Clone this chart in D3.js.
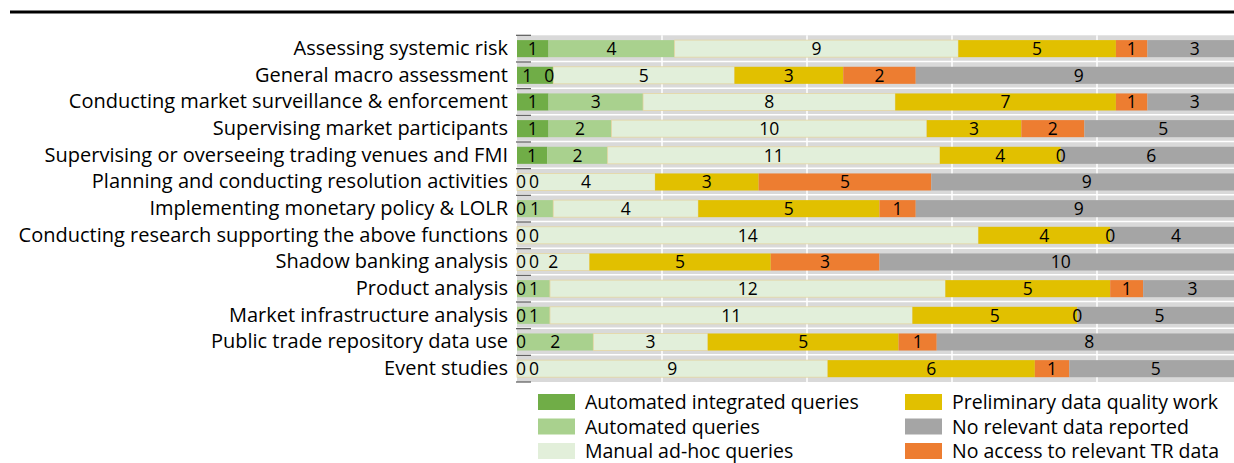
<!DOCTYPE html>
<html>
<head>
<meta charset="utf-8">
<script src="https://cdn.jsdelivr.net/npm/d3@7"></script>
<style>
  body { margin: 0; background: #fff; }
  svg { display: block; }
  text { font-family: "Open Sans", sans-serif; fill: #000; }
</style>
</head>
<body>
<svg id="chart" width="1234" height="463"></svg>
<script>
var categories = ['Assessing systemic risk', 'General macro assessment',
  'Conducting market surveillance & enforcement', 'Supervising market participants',
  'Supervising or overseeing trading venues and FMI', 'Planning and conducting resolution activities',
  'Implementing monetary policy & LOLR', 'Conducting research supporting the above functions',
  'Shadow banking analysis', 'Product analysis', 'Market infrastructure analysis',
  'Public trade repository data use', 'Event studies']

var seriesNames = ['Automated integrated queries', 'Automated queries', 'Manual ad-hoc queries',
  'Preliminary data quality work', 'No access to relevant TR data', 'No relevant data reported']

var automatedIntegrated = [1, 1, 1, 1, 1, 0, 0, 0, 0, 0, 0, 0, 0]
var automated = [4, 0, 3, 2, 2, 0, 1, 0, 0, 1, 1, 2, 0]
var manual = [9, 5, 8, 10, 11, 4, 4, 14, 2, 12, 11, 3, 9]
var preliminary = [5, 3, 7, 3, 4, 3, 5, 4, 5, 5, 5, 5, 6]
var noAccess = [1, 2, 1, 2, 0, 5, 1, 0, 3, 1, 0, 1, 1]
var noData = [3, 9, 3, 5, 6, 9, 9, 4, 10, 3, 5, 8, 5]

var legendOrder = ['Automated integrated queries', 'Automated queries', 'Manual ad-hoc queries',
  'Preliminary data quality work', 'No relevant data reported', 'No access to relevant TR data']

const colors = {
  'Automated integrated queries': '#70ad47',
  'Automated queries': '#a9d18e',
  'Manual ad-hoc queries': '#e2efda',
  'Preliminary data quality work': '#e1c000',
  'No access to relevant TR data': '#ed7d31',
  'No relevant data reported': '#a5a5a5'
}

var allSeries = [automatedIntegrated, automated, manual, preliminary, noAccess, noData]
var rows = categories.map(function (c, i) {
  var r = { category: c }
  seriesNames.forEach(function (s, j) { r[s] = allSeries[j][i] })
  return r
})

var svg = d3.select('#chart')

// rule at the top
svg.append('line').attr('x1', 10).attr('x2', 1234).attr('y1', 12).attr('y2', 12)
  .attr('stroke', '#000').attr('stroke-width', 3)

var x = d3.scaleLinear().domain([0, 1]).range([517, 1242])
var y = d3.scaleBand().domain(categories).range([35.3, 382])
  .paddingInner(0.36).paddingOuter(0.18)

var stack = d3.stack().keys(seriesNames).offset(d3.stackOffsetExpand)
var stacked = stack(rows)

svg.append('rect').attr('x', x(0)).attr('y', 35.3)
  .attr('width', x(1) - x(0)).attr('height', 382 - 35.3)
  .attr('fill', '#d9d9d9')

svg.append('g').selectAll('line.vgrid')
  .data([0.2, 0.4, 0.6, 0.8, 1])
  .enter().append('line')
  .attr('x1', d => x(d)).attr('x2', d => x(d))
  .attr('y1', 35.3).attr('y2', 382)
  .attr('stroke', '#fff').attr('stroke-width', 1.5)

var step = y.step()
var bounds = d3.range(0, categories.length + 1).map(k => 35.3 + k * step)

svg.append('g').selectAll('line.hgrid')
  .data(bounds.slice(1, -1))
  .enter().append('line')
  .attr('x1', x(0)).attr('x2', x(1))
  .attr('y1', d => d - 0.5).attr('y2', d => d - 0.5)
  .attr('stroke', '#fff').attr('stroke-width', 1.5)

svg.append('g').selectAll('g')
  .data(stacked)
  .enter().append('g')
  .attr('fill', d => colors[d.key])
  .selectAll('rect')
  .data(d => d.map(v => ({ key: d.key, v: v })))
  .enter().append('rect')
  .attr('x', d => x(d.v[0]))
  .attr('y', d => y(d.v.data.category))
  .attr('width', d => x(d.v[1]) - x(d.v[0]))
  .attr('height', y.bandwidth())
  .attr('stroke', d => d.key === 'Manual ad-hoc queries' ? '#e5d6a2' : 'none')
  .attr('stroke-width', 0.8)

// value labels, nudged apart when they crowd at the left edge
var labelG = svg.append('g').attr('font-size', 17.5).attr('text-anchor', 'middle')
rows.forEach(function (r, i) {
  var placed = []
  stacked.forEach(function (layer) {
    var v = layer[i]
    var cx = (x(v[0]) + x(v[1])) / 2
    if (cx < x(0) + 4) cx = x(0) + 4
    var last = placed[placed.length - 1]
    if (last) {
      if (r[layer.key] === 0 && last.val > 0 && cx - last.x < 20) {
        last.x = Math.max(last.x0 + 6, cx - 26)
        cx = cx - 4
      }
      if (cx < last.x + 13) cx = last.x + 13
    }
    placed.push({ x: cx, x0: x(v[0]), val: r[layer.key] })
  })
  placed.forEach(function (p) {
    labelG.append('text')
      .attr('x', p.x)
      .attr('y', y(r.category) + y.bandwidth() / 2)
      .attr('dy', '0.36em')
      .text(p.val)
  })
})

// category axis
var yAxis = d3.axisLeft(y).tickSize(0).tickPadding(9)
var yAxisG = svg.append('g').attr('transform', 'translate(' + x(0) + ',0)').call(yAxis)
yAxisG.select('.domain').remove()
yAxisG.selectAll('text').attr('font-size', 20).attr('font-family', '"Open Sans", sans-serif')

svg.append('g').selectAll('line.tick')
  .data(bounds)
  .enter().append('line')
  .attr('x1', 516).attr('x2', 531)
  .attr('y1', d => d).attr('y2', d => d)
  .attr('stroke', '#595959').attr('stroke-width', 1.2)

// legend
var legend = svg.append('g').selectAll('g')
  .data(legendOrder)
  .enter().append('g')
  .attr('transform', (d, i) => 'translate(' + (i < 3 ? 538 : 905) + ',' + (402 + (i % 3) * 24.5) + ')')
legend.append('rect').attr('x', 0).attr('y', -8).attr('width', 37).attr('height', 16)
  .attr('fill', d => colors[d])
legend.append('text').attr('x', 47).attr('dy', '0.36em').attr('font-size', 19.5).text(d => d)
</script>
</body>
</html>
